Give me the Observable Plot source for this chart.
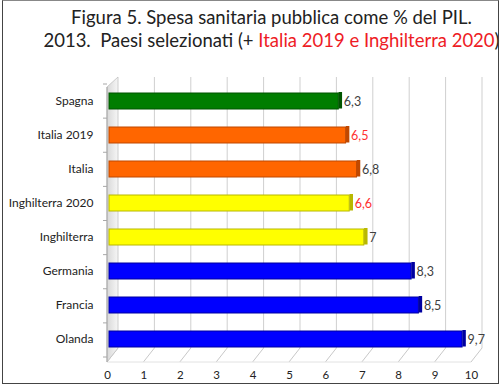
<!DOCTYPE html>
<html>
<head>
<meta charset="utf-8">
<script src="https://cdn.jsdelivr.net/npm/d3@7"></script>
<script src="https://cdn.jsdelivr.net/npm/@observablehq/plot@0.6"></script>
<style>
  html, body { margin: 0; padding: 0; background: #fff; }
  #frame { position: absolute; left: 2px; top: 0px; width: 497px; height: 384px; border: 1.5px solid #444; border-top-color: #888; box-sizing: border-box; }
  #wrap { position: absolute; left: 0; top: 0; width: 503px; height: 388px; font-family: Lato, sans-serif; }
  #title { height: 60px; text-align: center; font-size: 18.5px; line-height: 23px; color: #222; padding-top: 6px; box-sizing: border-box; padding-left: 40px; }
  #title .red { color: #ee1c25; }
  svg { display: block; }
</style>
</head>
<body>
<div id="wrap">
  <div id="title">Figura 5. Spesa sanitaria pubblica come % del PIL.<br>2013.&nbsp; Paesi selezionati (+ <span class="red">Italia 2019 e Inghilterra 2020</span>)</div>
  <div id="chart"></div>
</div>
<div id="frame"></div>
<script>
const categories = ["Spagna", "Italia 2019", "Italia", "Inghilterra 2020", "Inghilterra", "Germania", "Francia", "Olanda"];
const values = [6.3, 6.5, 6.8, 6.6, 7, 8.3, 8.5, 9.7];
const fills = ["#007d00", "#ff6600", "#ff6600", "#ffff00", "#ffff00", "#0000ff", "#0000ff", "#0000ff"];
const edges = ["#005500", "#c04800", "#c04800", "#b8b800", "#b8b800", "#0000a0", "#0000a0", "#0000a0"];
const labelColors = ["#404040", "#ff3030", "#404040", "#ff3030", "#404040", "#404040", "#404040", "#404040"];
const xTicks = [0, 1, 2, 3, 4, 5, 6, 7, 8, 9, 10];

const data = categories.map((name, i) => ({name, value: values[i], fill: fills[i], edge: edges[i], lc: labelColors[i]}));
const fmt = v => String(v).replace(".", ",");

function decor(index, scales, values_, dim) {
  const x = scales.x;
  const top = dim.marginTop, bottom = dim.height - dim.marginBottom;
  const back = 9, depth = 14;
  const g = d3.create("svg:g");
  const defs = g.append("defs");
  const grad = defs.append("linearGradient").attr("id", "wallg").attr("x1", 0).attr("x2", 1);
  grad.append("stop").attr("offset", 0).attr("stop-color", "#d8d8d8");
  grad.append("stop").attr("offset", 1).attr("stop-color", "#f6f6f6");
  const x0 = x(0);
  const backTop = top - 6, backBottom = bottom - 8;
  // back grid lines
  g.append("g").selectAll("line").data(xTicks.slice(1)).join("line")
    .attr("x1", d => x(d) + back).attr("x2", d => x(d) + back)
    .attr("y1", backTop).attr("y2", backBottom)
    .attr("stroke", "#cfcfcf").attr("stroke-width", 1);
  // floor diagonals
  g.append("g").selectAll("line").data(xTicks).join("line")
    .attr("x1", d => x(d) + back).attr("x2", d => x(d) - 2)
    .attr("y1", backBottom).attr("y2", backBottom + depth)
    .attr("stroke", "#c8c8c8").attr("stroke-width", 1);
  g.append("line").attr("x1", x0 - 2).attr("x2", x(10) - 2)
    .attr("y1", backBottom + depth).attr("y2", backBottom + depth)
    .attr("stroke", "#e2e2e2");
  // left wall
  g.append("path")
    .attr("d", `M${x0 - 2},${backTop + 10}L${x0 + back},${backTop}L${x0 + back},${backBottom}L${x0 - 2},${backBottom + depth}Z`)
    .attr("fill", "url(#wallg)").attr("stroke", "#c0c0c0").attr("stroke-width", 0.8);
  g.append("line").attr("x1", x0 - 2).attr("x2", x0 - 2)
    .attr("y1", backTop + 10).attr("y2", backBottom + depth)
    .attr("stroke", "#a8a8a8");
  const step = (bottom - top) / categories.length;
  g.append("g").selectAll("line").data(d3.range(categories.length + 1)).join("line")
    .attr("x1", x0 - 6).attr("x2", x0 - 2)
    .attr("y1", d => top + d * step + 1).attr("y2", d => top + d * step + 1)
    .attr("stroke", "#a8a8a8");
  return g.node();
}

const chart = Plot.plot({
  width: 503,
  height: 326,
  marginTop: 23,
  marginBottom: 30,
  marginLeft: 109,
  marginRight: 30,
  style: {fontFamily: "Lato, sans-serif", background: "transparent"},
  x: {domain: [0, 10], ticks: xTicks, label: null, tickSize: 0, tickPadding: 14, tickFormat: d => d},
  y: {domain: categories, padding: 0, label: null, tickSize: 0, tickPadding: 16},
  marks: [
    decor,
    Plot.barX(data, {x: "value", y: "name", fill: "fill", stroke: "edge", strokeWidth: 1, insetTop: 9, insetBottom: 9}),
    Plot.tickX(data, {x: "value", y: "name", stroke: "edge", strokeWidth: 3.5, dx: 1.5, insetTop: 8, insetBottom: 9.5}),
    Plot.text(data, {x: "value", y: "name", text: d => fmt(d.value), fill: "lc", dx: 5, textAnchor: "start", fontSize: 12.5}),
    Plot.axisX({ticks: xTicks, tickSize: 0, tickPadding: 14, dx: -2, fontSize: 11.5, fill: "#222", tickFormat: d => d}),
    Plot.axisY({tickSize: 0, tickPadding: 16, fontSize: 12, fill: "#222"})
  ]
});
document.getElementById("chart").appendChild(chart);
</script>
</body>
</html>
